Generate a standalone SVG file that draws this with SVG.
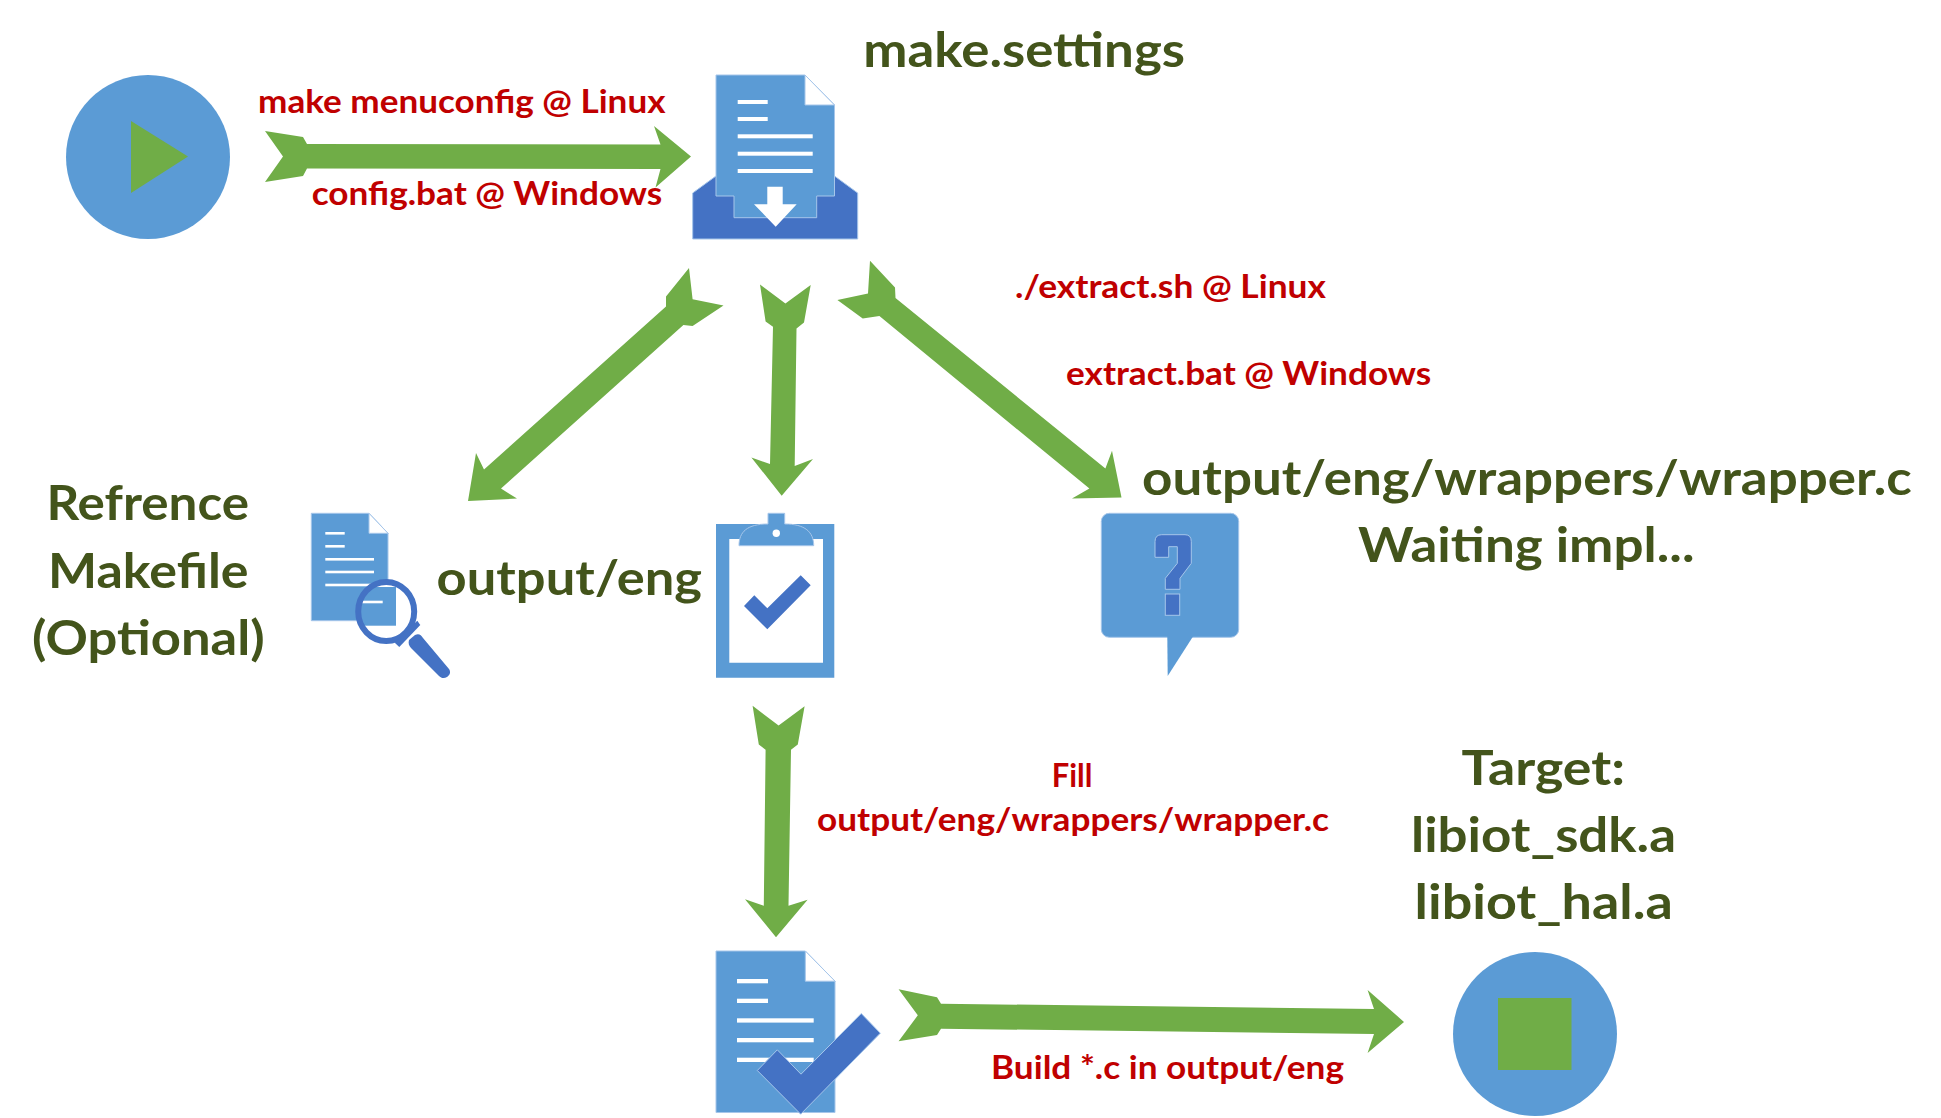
<svg xmlns="http://www.w3.org/2000/svg" width="1941" height="1118" viewBox="0 0 1941 1118">
<style>
text{font-family:"Lato","Liberation Sans",sans-serif;font-weight:700}
.t{fill:#43541b;font-size:48px}
.r{fill:#c00000;font-size:32px}
.b{fill:#5b9bd5}
.d{fill:#4472c4}
.bo{stroke:#a6c6ea;stroke-width:1}
.g{fill:#70ad47}
.w{fill:#fff}
</style>
<defs>
<clipPath id="lens"><ellipse cx="386.2" cy="611.5" rx="28" ry="29.5"/></clipPath>
</defs>
<rect width="1941" height="1118" fill="#fff"/>
<g id="connectors" class="g">
<path d="M265 131L303 137L307 144L660.5 144.5L654 126L691 156.5L655.5 187.5L660.5 169L307 168.6L303 176L265 182L283 156.5Z"/>
<path d="M689 268L692.6 299.3L723.5 305.4L692.6 326L683.4 325L501 488.6L517 498.6L468 501L476 453L484 469.6L666 306.4L666 296.4Z"/>
<path d="M760 284.6L785.4 303.6L810.7 285L804 322.5L796.5 328.6L794.7 466L813 459L781.7 495.7L751.4 457.5L770 464L773 326.8L765.6 321.4Z"/>
<path d="M870 260.7L868 293.6L837.4 300L862.7 318.6L879.4 316L1089.4 488.6L1072 498.6L1121.5 497.5L1112 450.7L1105.4 468.6L895.5 298L895 287.5Z"/>
<path d="M752.6 705.8L778.6 725.4L804.6 706.2L797.8 744.4L791 749.8L788.5 905.8L807.6 899.8L776 937.3L745 899.2L763.8 905.8L765.6 749.8L758.8 744.4Z"/>
<path d="M898.6 989.3L937 997.3L941 1003.7L1374 1009L1367.6 990.1L1404 1021.9L1367.6 1052.9L1374 1034L941 1028.7L937 1035.1L898.6 1041.3L917.8 1015.3Z"/>
</g>
<g id="start">
<circle class="b" cx="148" cy="157" r="82"/>
<path class="g" d="M131 121L188 156.5L131 193Z"/>
</g>
<g id="make-settings">
<path class="d bo" d="M692.7 193L716 176H834.5L857.7 193V239H692.7Z"/>
<path class="b bo" d="M716 75H805L834.5 105V196H816.7V217.7H734V196H716Z"/>
<path class="w bo" d="M805 75L834.5 105H805Z"/>
<g class="w">
<rect x="737.7" y="100" width="30" height="4"/>
<rect x="737.7" y="117" width="30" height="4"/>
<rect x="737.7" y="134.3" width="75" height="4"/>
<rect x="737.7" y="151.7" width="75" height="4"/>
<rect x="737.7" y="169" width="75" height="4"/>
<path d="M767.3 186.7H782.7V204.3H796.7L775.7 226.7L754 204.3H767.3Z"/>
</g>
<text class="t" x="863.3" y="66.8" textLength="321.7" lengthAdjust="spacingAndGlyphs">make.settings</text>
</g>
<g id="reference-makefile">
<path class="b bo" d="M311.3 513.3H369L388 533.3V620.7H311.3Z"/>
<path class="w bo" d="M369 513.3L388 533.3H369Z"/>
<g class="w">
<rect x="325.3" y="532" width="19.4" height="2.6"/>
<rect x="325.3" y="545" width="19.4" height="2.6"/>
<rect x="325.3" y="558" width="48.7" height="2.6"/>
<rect x="325.3" y="570.7" width="48.7" height="2.6"/>
<rect x="325.3" y="583.7" width="48.7" height="2.6"/>
</g>
<ellipse class="w" cx="386.2" cy="611.5" rx="28" ry="29.5"/>
<g clip-path="url(#lens)">
<rect class="b" x="350" y="587" width="46" height="38.7"/>
<rect class="w" x="355" y="600.7" width="27.7" height="2.6"/>
</g>
<ellipse cx="386.2" cy="611.5" rx="28" ry="29.5" fill="none" stroke="#4472c4" stroke-width="6"/>
<path class="d" d="M394.7 642.7L417.3 620.7L420.3 625L399.3 647Z"/>
<path class="d" d="M409 640L415 635C419 633 421 635 423 638L449 669C451 672 450 675 447 677C444 679 441 678 439 676L411 648C409 646 408 643 409 640Z"/>
<text class="t" x="46.4" y="519.6" textLength="202.6" lengthAdjust="spacingAndGlyphs">Refrence</text>
<text class="t" x="48" y="588" textLength="200.6" lengthAdjust="spacingAndGlyphs">Makefile</text>
<text class="t" x="32" y="655.4" textLength="232.7" lengthAdjust="spacingAndGlyphs">(Optional)</text>
</g>
<g id="output-eng">
<path class="b" fill-rule="evenodd" d="M716 524H834.3V677.7H716ZM729.3 539V662.7H823V539Z"/>
<path class="b bo" d="M739 545.7C739 532 747 524 768 524V513.3H784.7V524C805 524 813.7 532 813.7 545.7Z"/>
<circle class="w" cx="776.3" cy="533.3" r="3.7"/>
<path class="d" d="M744 606L754.3 595.3L767.3 608.3L800.7 575.3L810.7 585.3L767.3 629.3Z"/>
<text class="t" x="436.6" y="594.6" textLength="265.4" lengthAdjust="spacingAndGlyphs">output/eng</text>
</g>
<g id="wrapper">
<rect class="b bo" x="1101.3" y="513.3" width="137.4" height="124" rx="8"/>
<path class="b" d="M1167.3 636L1167.7 676L1193.3 636Z"/>
<path class="d bo" d="M1155 557.3V541.7Q1155 534.7 1161.7 534.7H1185Q1191.3 534.7 1191.3 541.7V563.3L1180 578.3V589.3H1165.3V578.3L1177.3 563.3V546.7H1168.7V557.3Z"/>
<rect class="d bo" x="1165.3" y="594" width="14.4" height="21.3"/>
<text class="t" x="1142" y="494.6" textLength="769.8" lengthAdjust="spacingAndGlyphs">output/eng/wrappers/wrapper.c</text>
<text class="t" x="1358" y="562" textLength="336.5" lengthAdjust="spacingAndGlyphs">Waiting impl...</text>
</g>
<g id="filled-doc">
<path class="b bo" d="M716 951H805.3L835 981.2V1112.5H716Z"/>
<path class="w bo" d="M805.3 951L835 981.2H805.3Z"/>
<g class="w">
<rect x="737" y="979" width="31" height="4.3"/>
<rect x="737" y="998.7" width="31" height="4.3"/>
<rect x="737" y="1018.3" width="76.7" height="4.3"/>
<rect x="737" y="1038" width="76.7" height="4.3"/>
<rect x="737" y="1057.7" width="76.7" height="4.3"/>
</g>
<path class="d bo" d="M757.3 1070.5L777.3 1049.8L801 1074.2L861.3 1013.5L880.3 1033.2L800.7 1114.2Z"/>
</g>
<g id="target">
<circle class="b" cx="1535" cy="1034" r="82"/>
<rect class="g" x="1498" y="998" width="73.5" height="72"/>
<text class="t" x="1461.6" y="784.7" textLength="163.4" lengthAdjust="spacingAndGlyphs">Target:</text>
<text class="t" x="1411" y="851.7" textLength="265" lengthAdjust="spacingAndGlyphs">libiot_sdk.a</text>
<text class="t" x="1414.6" y="919.1" textLength="258.2" lengthAdjust="spacingAndGlyphs">libiot_hal.a</text>
</g>
<g id="connector-labels">
<text class="r" x="258" y="112.5" textLength="407.5" lengthAdjust="spacingAndGlyphs">make menuconfig @ Linux</text>
<text class="r" x="311.7" y="205.4" textLength="350.6" lengthAdjust="spacingAndGlyphs">config.bat @ Windows</text>
<text class="r" x="1015" y="298" textLength="311" lengthAdjust="spacingAndGlyphs">./extract.sh @ Linux</text>
<text class="r" x="1066" y="385" textLength="365.3" lengthAdjust="spacingAndGlyphs">extract.bat @ Windows</text>
<text class="r" x="1051.7" y="786.9" textLength="40.7" lengthAdjust="spacingAndGlyphs">Fill</text>
<text class="r" x="817" y="831.3" textLength="512" lengthAdjust="spacingAndGlyphs">output/eng/wrappers/wrapper.c</text>
<text class="r" x="991" y="1078.9" textLength="353" lengthAdjust="spacingAndGlyphs">Build *.c in output/eng</text>
</g>
</svg>
